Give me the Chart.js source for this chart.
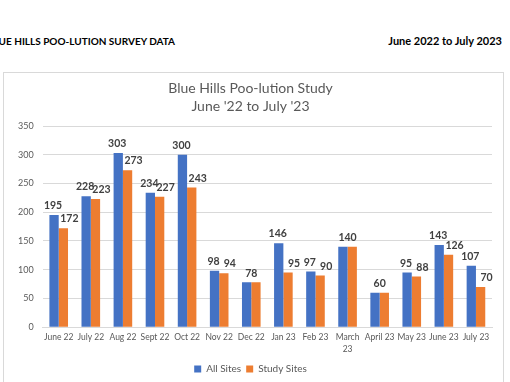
<!DOCTYPE html>
<html>
<head>
<meta charset="utf-8">
<script src="https://cdn.jsdelivr.net/npm/chart.js@4"></script>
<style>
  html, body { margin: 0; padding: 0; background: #fff; width: 510px; height: 382px; overflow: hidden; }
  .hdr { position: absolute; top: 35px; font-family: Lato, "Open Sans", sans-serif; font-weight: bold; color: #000; white-space: nowrap; }
  #h1 { left: -13px; font-size: 10px; }
  #h2 { right: 8px; font-size: 11px; top: 34px; }
  #box { position: absolute; left: 3px; top: 72px; width: 501px; height: 320px; border: 1px solid #d9d9d9; box-sizing: border-box; }
  canvas { position: absolute; left: 0; top: 0; }
</style>
</head>
<body>
<div class="hdr" id="h1">BLUE HILLS POO-LUTION SURVEY DATA</div>
<div class="hdr" id="h2">June 2022 to July 2023</div>
<div id="box"><canvas id="c" width="499" height="311"></canvas></div>
<script>
const categories = ['June 22','July 22','Aug 22','Sept 22','Oct 22','Nov 22','Dec 22','Jan 23','Feb 23',['March','23'],'April 23','May 23','June 23','July 23'];
const allSites   = [195,228,303,234,300,98,78,146,97,140,60,95,143,107];
const studySites = [172,223,273,227,243,94,78,95,90,140,60,88,126,70];
const yTicks = { min: 0, max: 350, step: 50 };

const FONT = 'Lato, "Open Sans", sans-serif';

const labelPlugin = {
  id: 'barLabels',
  afterDatasetsDraw(chart) {
    const ctx = chart.ctx;
    const m0 = chart.getDatasetMeta(0), m1 = chart.getDatasetMeta(1);
    ctx.save();
    ctx.font = 'bold 10.5px ' + FONT;
    ctx.fillStyle = '#404040';
    ctx.textAlign = 'center';
    ctx.textBaseline = 'bottom';
    const a = chart.data.datasets[0].data, b = chart.data.datasets[1].data;
    for (let i = 0; i < a.length; i++) {
      const p0 = m0.data[i], p1 = m1.data[i];
      if (a[i] === b[i]) {
        ctx.fillText(String(a[i]), (p0.x + p1.x) / 2, p0.y - 4);
      } else {
        ctx.fillText(String(a[i]), p0.x - 1, p0.y - 4);
        ctx.fillText(String(b[i]), p1.x + 6, p1.y - 4);
      }
    }
    ctx.restore();
  }
};

new Chart(document.getElementById('c'), {
  type: 'bar',
  data: {
    labels: categories,
    datasets: [
      { label: 'All Sites', data: allSites, backgroundColor: '#4472c4', categoryPercentage: 0.58, barPercentage: 1.0 },
      { label: 'Study Sites', data: studySites, backgroundColor: '#ed7d31', categoryPercentage: 0.58, barPercentage: 1.0 }
    ]
  },
  options: {
    responsive: false,
    animation: false,
    layout: { padding: { left: 5, right: 11, top: 0, bottom: 0 } },
    plugins: {
      title: {
        display: true,
        text: ['Blue Hills Poo-lution Study', "June '22 to July '23"],
        color: '#595959',
        font: { family: FONT, size: 14, weight: 'normal', lineHeight: 1.25 },
        padding: { top: 7, bottom: 11 }
      },
      legend: {
        position: 'bottom',
        labels: {
          color: '#595959',
          font: { family: FONT, size: 10 },
          boxWidth: 7, boxHeight: 7, padding: 5
        }
      },
      tooltip: { enabled: false }
    },
    scales: {
      x: {
        grid: { display: false, drawTicks: false },
        border: { display: true, color: '#d9d9d9' },
        ticks: { color: '#595959', font: { family: FONT, size: 8.5, lineHeight: 1.4 }, maxRotation: 0, autoSkip: false, padding: 4 }
      },
      y: {
        min: yTicks.min, max: yTicks.max,
        grid: { color: '#d9d9d9', drawTicks: false },
        border: { display: false },
        ticks: { stepSize: yTicks.step, color: '#595959', font: { family: FONT, size: 9 }, padding: 9 }
      }
    }
  },
  plugins: [labelPlugin]
});
</script>
</body>
</html>
